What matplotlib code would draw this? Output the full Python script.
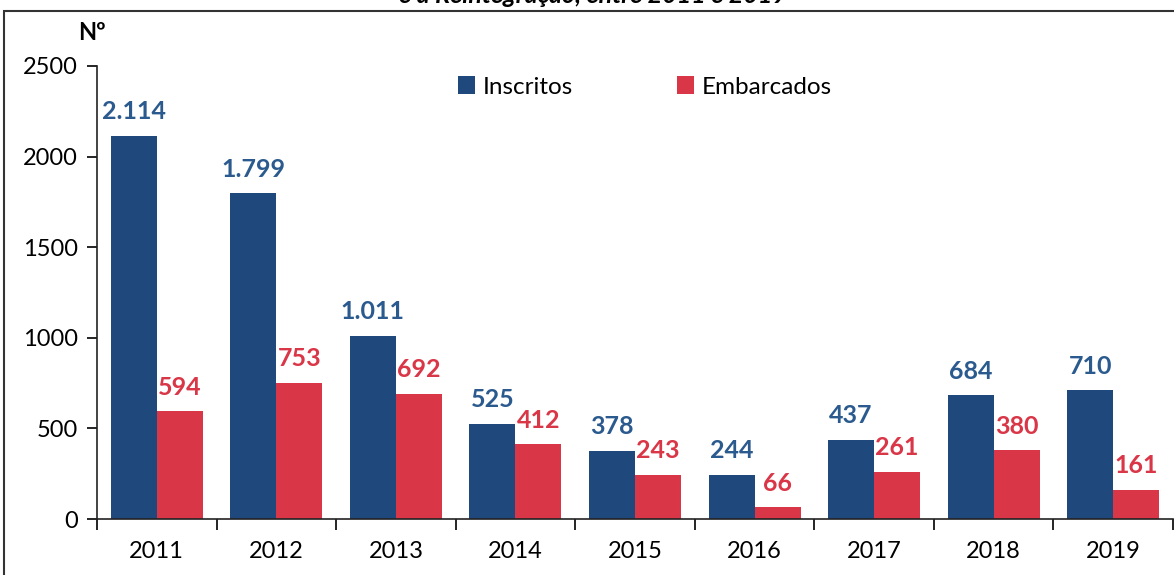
import matplotlib
matplotlib.use("Agg")
import matplotlib.pyplot as plt
import matplotlib.patches as patches
import numpy as np

# dados
anos = ['2011', '2012', '2013', '2014', '2015', '2016', '2017', '2018', '2019']
inscritos = [2114, 1799, 1011, 525, 378, 244, 437, 684, 710]
embarcados = [594, 753, 692, 412, 243, 66, 261, 380, 161]

azul = '#1F497D'
vermelho = '#D93647'

plt.rcParams['font.family'] = ['Lato', 'DejaVu Sans']

def fmt(v):
    return '{:,}'.format(v).replace(',', '.')

fig = plt.figure(figsize=(11.74, 5.75), dpi=100)
ax = fig.add_axes([97/1174, 1-519/575, 1076/1174, (519-66)/575])

x = np.arange(len(anos))
w = 0.385
b1 = ax.bar(x - w/2, inscritos, w, color=azul, label='Inscritos')
b2 = ax.bar(x + w/2, embarcados, w, color=vermelho, label='Embarcados')

# rótulos dos valores
for xi, v in zip(x, inscritos):
    ax.annotate(fmt(v), (xi - w/2, v), xytext=(0, 9), textcoords='offset points',
                ha='center', va='bottom', fontsize=18, fontweight='bold', color='#2B5A8E')
for xi, v in zip(x, embarcados):
    ax.annotate(fmt(v), (xi + w/2, v), xytext=(0, 9), textcoords='offset points',
                ha='center', va='bottom', fontsize=18, fontweight='bold', color=vermelho)

ax.set_xlim(-0.5, len(anos) - 0.5)
ax.set_ylim(0, 2500)
ax.set_yticks([0, 500, 1000, 1500, 2000, 2500])
ax.set_xticks(x)
ax.set_xticklabels(anos)
ax.set_xticks(np.arange(-0.5, len(anos)), minor=True)
ax.tick_params(axis='x', which='major', length=0, pad=16, labelsize=17)
ax.tick_params(axis='x', which='minor', length=8, width=1.2, direction='out')
ax.tick_params(axis='y', length=7, width=1.2, direction='out', labelsize=17, pad=7)

for s in ['top', 'right']:
    ax.spines[s].set_visible(False)
for s in ['left', 'bottom']:
    ax.spines[s].set_linewidth(1.2)
    ax.spines[s].set_color('#222222')

ax.legend(loc='center', bbox_to_anchor=(645/1174, 1-87/575), bbox_transform=fig.transFigure,
          ncol=2, frameon=False, handlelength=0.7, handleheight=0.7, handletextpad=0.3,
          columnspacing=4.3, fontsize=17.5)

fig.text(92/1174, 1-33/575, 'Nº', ha='center', va='center', fontsize=17, fontweight='bold')

# título cortado no topo
fig.text(0.505, 1-3/575, 'e a Reintegração, entre 2011 e 2019', ha='center', va='baseline',
         fontsize=18, fontweight='bold', fontstyle='italic')

# moldura
fig.patches.append(patches.Rectangle((4/1174, -0.1), 1.2, 1-11/575+0.1, fill=False,
                                     lw=1.5, edgecolor='#333333', transform=fig.transFigure))

fig.savefig('out.png', dpi=100)
